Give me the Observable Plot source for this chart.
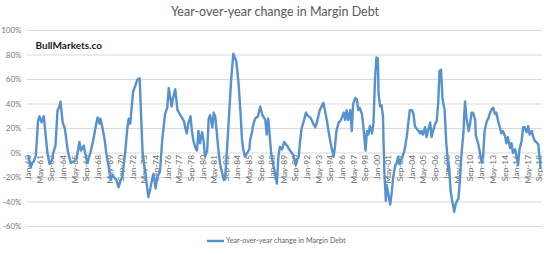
<!DOCTYPE html>
<html>
<head>
<meta charset="utf-8">
<script src="https://cdn.jsdelivr.net/npm/d3@7"></script>
<script src="https://cdn.jsdelivr.net/npm/@observablehq/plot@0.6"></script>
<style>
  html, body { margin: 0; padding: 0; background: #fff; }
  #wrap { position: relative; width: 550px; height: 254px; overflow: hidden; font-family: Lato, "Open Sans", sans-serif; }
  #title { position: absolute; top: 4px; left: 0; width: 550px; text-align: center; font-size: 12.5px; color: #595959; }
  #chart { position: absolute; top: 22px; left: 0; }
  #legend { position: absolute; top: 236px; left: 207px; font-size: 7.2px; color: #666; display: flex; align-items: center; white-space: nowrap; }
  #legend svg { margin-right: 2px; }
</style>
</head>
<body>
<div id="wrap">
  <div id="title">Year-over-year change in Margin Debt</div>
  <div id="chart"></div>
  <div id="legend"></div>
</div>
<script>
const seriesName = "Year-over-year change in Margin Debt";
const watermark = "BullMarkets.co";

const months = [
"1960-01","1960-04","1960-06","1960-08","1960-11","1961-02","1961-04","1961-07","1961-10","1961-12",
"1962-03","1962-06","1962-09","1962-11","1963-02","1963-05","1963-07","1963-09","1963-12","1964-03",
"1964-07","1964-11","1965-03","1965-07","1965-11","1966-01","1966-05","1966-07","1966-10","1967-02",
"1967-06","1967-09","1967-12","1968-03","1968-04","1968-07","1968-10","1968-12","1969-03","1969-06",
"1969-09","1969-11","1970-02","1970-05","1970-08","1970-10","1971-02","1971-05","1971-07","1971-09",
"1972-01","1972-04","1972-07","1972-10","1972-12","1973-02","1973-04","1973-06","1973-10","1974-01",
"1974-03","1974-05","1974-08","1974-10","1975-02","1975-05","1975-07","1975-09","1975-12","1976-02",
"1976-06","1976-08","1976-11","1977-02","1977-07","1977-11","1978-01","1978-03","1978-05","1978-08",
"1978-10","1978-12","1979-03","1979-05","1979-07","1979-09","1979-12","1980-02","1980-04","1980-07",
"1980-09","1980-11","1981-02","1981-04","1981-06","1981-08","1981-10","1982-01","1982-06","1982-08",
"1982-10","1983-01","1983-04","1983-07","1983-11","1984-02","1984-05","1984-07","1984-09","1984-11",
"1985-02","1985-05","1985-06","1985-09","1985-10","1986-01","1986-05","1986-08","1986-11","1987-03",
"1987-05","1987-07","1987-09","1987-11","1988-02","1988-05","1988-07","1988-09","1988-11","1989-02",
"1989-05","1989-09","1990-01","1990-06","1990-09","1990-11","1991-01","1991-03","1991-05","1991-08",
"1991-11","1992-02","1992-05","1992-09","1992-12","1993-02","1993-06","1993-11","1994-01","1994-04",
"1994-06","1994-09","1995-01","1995-03","1995-05","1995-08","1995-10","1995-12","1996-03","1996-05",
"1996-07","1996-09","1996-12","1997-02","1997-04","1997-07","1997-09","1997-11","1998-01","1998-04",
"1998-06","1998-09","1998-11","1999-01","1999-03","1999-06","1999-08","1999-10","1999-12","2000-02",
"2000-03","2000-05","2000-07","2000-09","2000-10","2000-11","2001-01","2001-02","2001-04","2001-07",
"2001-09","2001-11","2002-02","2002-04","2002-06","2002-08","2002-11","2003-01","2003-03","2003-06",
"2003-08","2003-10","2004-01","2004-03","2004-05","2004-07","2004-10","2004-12","2005-02","2005-04",
"2005-07","2005-09","2005-11","2006-02","2006-04","2006-06","2006-09","2006-11","2007-01","2007-03",
"2007-05","2007-07","2007-08","2007-10","2007-12","2008-02","2008-03","2008-04","2008-06","2008-08",
"2008-10","2008-11","2009-01","2009-03","2009-05","2009-07","2009-09","2009-12","2010-01","2010-02",
"2010-04","2010-07","2010-09","2010-11","2011-01","2011-04","2011-05","2011-08","2011-10","2012-01",
"2012-03","2012-05","2012-08","2012-10","2012-12","2013-03","2013-05","2013-07","2013-09","2013-12",
"2014-02","2014-04","2014-06","2014-09","2014-11","2015-01","2015-04","2015-06","2015-08","2015-11",
"2016-01","2016-03","2016-05","2016-08","2016-10","2016-12","2017-03","2017-05","2017-07","2017-10",
"2017-12","2018-02","2018-04","2018-07","2018-08","2018-10"
];

const yoyChange = [
-3,-12,-8,-7,-2,26,30,25,30,18,
0,-9,-6,0,6,35,37,42,25,20,
2,-8,-7,-5,9,2,6,0,-8,0,
10,20,29,24,28,20,10,0,-10,-22,
-18,-20,-22,-28,-22,-20,0,20,28,24,
50,55,60,61,30,0,-9,-17,-36,-28,
-22,-17,-29,-20,-15,10,21,32,37,53,
38,45,52,35,30,26,20,16,24,30,
18,10,4,2,18,8,17,10,-3,2,
28,31,21,33,30,18,5,-10,-22,-18,
0,30,60,81,75,58,32,10,2,-3,
0,3,10,18,22,28,30,38,31,27,
15,28,15,0,-10,-18,-25,-3,5,3,
9,6,2,-2,-10,-5,-3,10,20,26,
33,30,29,24,21,25,35,41,35,26,
18,8,-3,5,18,25,26,28,33,27,
35,27,35,18,40,45,44,35,37,32,
22,2,18,15,22,16,25,59,78,77,
48,38,39,30,5,-17,-39,-26,-32,-42,
-33,-20,-10,-8,-3,-9,-4,-1,3,14,
25,35,35,32,22,20,18,16,18,15,
21,13,18,25,13,18,24,26,40,67,
68,45,41,35,10,-5,-15,-10,-30,-38,
-44,-48,-42,-39,-37,-22,-2,18,32,42,
29,18,24,33,33,27,14,8,2,-8,
-2,18,26,28,32,36,37,32,33,25,
21,16,18,14,8,13,4,8,0,3,
-3,-10,3,10,21,21,17,22,15,18,
13,10,9,7,0,-12
];

const xTickLabels = ["Jan-60","May-61","Sep-62","Jan-64","May-65","Sep-66","Jan-68","May-69","Sep-70","Jan-72",
"May-73","Sep-74","Jan-76","May-77","Sep-78","Jan-80","May-81","Sep-82","Jan-84","May-85",
"Sep-86","Jan-88","May-89","Sep-90","Jan-92","May-93","Sep-94","Jan-96","May-97","Sep-98",
"Jan-00","May-01","Sep-02","Jan-04","May-05","Sep-06","Jan-08","May-09","Sep-10","Jan-12",
"May-13","Sep-14","Jan-16","May-17","Sep-18"];

const yTicks = [-60,-40,-20,0,20,40,60,80,100];

const parseMonth = d3.utcParse("%Y-%m");
const data = months.map((m, i) => ({date: parseMonth(m), value: yoyChange[i]}));

const monIdx = {Jan:0,Feb:1,Mar:2,Apr:3,May:4,Jun:5,Jul:6,Aug:7,Sep:8,Oct:9,Nov:10,Dec:11};
const ticks = xTickLabels.map(l => {
  const [mo, yy] = l.split("-");
  const y = +yy >= 50 ? 1900 + +yy : 2000 + +yy;
  return {date: new Date(Date.UTC(y, monIdx[mo], 1)), label: l};
});

const lineColor = "#5592cf";

const plot = Plot.plot({
  width: 550,
  height: 212,
  marginLeft: 27,
  marginRight: 8,
  marginTop: 8,
  marginBottom: 8,
  style: {fontFamily: "Lato, 'Open Sans', sans-serif", background: "transparent"},
  x: {type: "utc", domain: [new Date(Date.UTC(1959, 10, 18)), new Date(Date.UTC(2018, 11, 22))], axis: null},
  y: {domain: [-60, 100], axis: null},
  marks: [
    Plot.gridY(yTicks, {stroke: "#d9d9d9", strokeOpacity: 1, strokeWidth: 1}),
    Plot.axisY(yTicks, {tickSize: 0, tickPadding: 6, tickFormat: d => d + "%", fontSize: 8, fill: "#7a7a7a", label: null}),
    Plot.text(ticks, {x: "date", y: () => 0, text: "label", rotate: -90, textAnchor: "end", dy: 2, fontSize: 8.3, fill: "#6a6a6a"}),
    Plot.line(data, {x: "date", y: "value", stroke: lineColor, strokeWidth: 2.4, strokeLinejoin: "round"}),
    Plot.text([watermark], {frameAnchor: "top-left", dx: 8, dy: 15, lineAnchor: "middle", textAnchor: "start", fontSize: 10, fontWeight: "bold", fill: "#1a1a1a"})
  ]
});
document.getElementById("chart").appendChild(plot);

const legend = document.getElementById("legend");
legend.innerHTML = `<svg width="17" height="8"><line x1="0" y1="4" x2="17" y2="4" stroke="${lineColor}" stroke-width="2.5"/></svg><span>${seriesName}</span>`;
</script>
</body>
</html>
